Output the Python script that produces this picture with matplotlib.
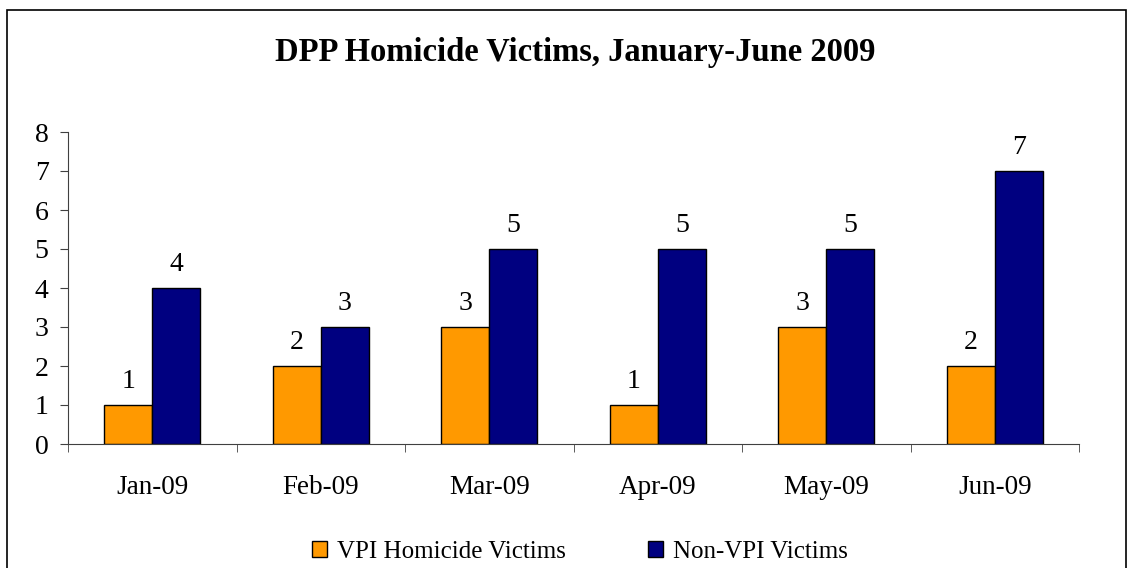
import numpy as np
import matplotlib.pyplot as plt
from matplotlib.patches import Rectangle

months = ['Jan-09', 'Feb-09', 'Mar-09', 'Apr-09', 'May-09', 'Jun-09']
vpi = [1, 2, 3, 1, 3, 2]
non_vpi = [4, 3, 5, 5, 5, 7]
series_names = ['VPI Homicide Victims', 'Non-VPI Victims']

plt.rcParams['font.family'] = ['Liberation Serif', 'DejaVu Serif']

fig = plt.figure(figsize=(11.33, 5.68), dpi=100)
ax = fig.add_axes([68/1133, 1-444/568, (1079-68)/1133, (444-132)/568])

# outer border of the chart area
fig.patches.append(Rectangle((7/1133, -0.02), (1126-7)/1133, 1.02-10/568,
                             transform=fig.transFigure, fill=False,
                             edgecolor='black', linewidth=1.2))

x = np.arange(len(months))
w = 1/3.5
b1 = ax.bar(x - w/2, vpi, w, color='#FF9900', edgecolor='black', linewidth=1, label=series_names[0])
b2 = ax.bar(x + w/2, non_vpi, w, color='#000080', edgecolor='black', linewidth=1, label=series_names[1])

for bars, vals in [(b1, vpi), (b2, non_vpi)]:
    for r, v in zip(bars, vals):
        ax.annotate(str(v), (r.get_x() + r.get_width()/2, v), xytext=(0, 8),
                    textcoords='offset points', ha='center', va='bottom', fontsize=20)

ax.set_xlim(-0.5, 5.5)
ax.set_ylim(0, 8)
ax.set_yticks(range(9))
ax.set_xticks(x)
ax.set_xticklabels(months)
ax.set_xticks(np.arange(-0.5, 6, 1), minor=True)
ax.tick_params(axis='x', which='major', length=0, pad=22, labelsize=19.5)
ax.tick_params(axis='x', which='minor', length=6, color='#404040')
ax.tick_params(axis='y', length=6, color='#404040', labelsize=20, pad=8)
for s in ['top', 'right']:
    ax.spines[s].set_visible(False)
for s in ['left', 'bottom']:
    ax.spines[s].set_color('#404040')

fig.text(575/1133, 1-52/568, 'DPP Homicide Victims, January-June 2009',
         ha='center', va='center', fontsize=23.5, fontweight='bold')

fig.legend(loc='center', bbox_to_anchor=(580/1133, 1-552/568), ncol=2, frameon=False,
           fontsize=18, handlelength=0.6, handleheight=0.6, handletextpad=0.4,
           columnspacing=3.3)

plt.savefig('out.png', dpi=100)
